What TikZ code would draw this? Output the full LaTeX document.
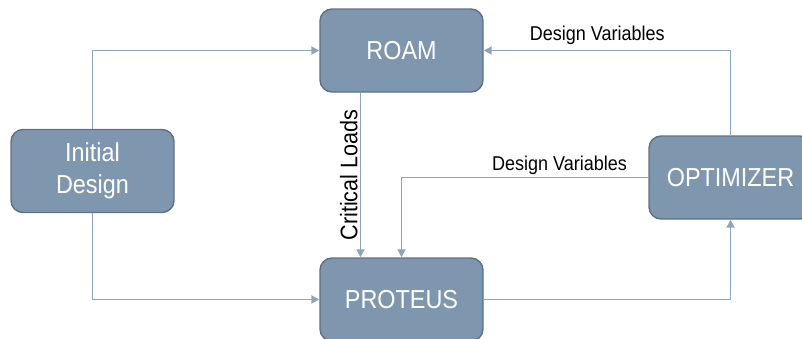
\documentclass[tikz,border=0pt]{standalone}
\usepackage{fontspec}
\setmainfont[FakeStretch=0.9]{Liberation Sans}
\usepackage{xcolor}
\usepackage{tikz}
\usetikzlibrary{arrows.meta}

\definecolor{boxfill}{HTML}{7F97AE}
\definecolor{boxline}{HTML}{5C7189}
\definecolor{flowline}{HTML}{8DA4BA}

\begin{document}
\begin{tikzpicture}[x=1pt, y=-1pt,
  blok/.style={draw=boxline, line width=1.4pt, fill=boxfill, rounded corners=12pt,
    minimum width=163pt, minimum height=83pt, inner sep=0pt, text=white,
    align=center, font=\fontsize{26}{32}\selectfont},
  flow/.style={draw=flowline, line width=1.8pt, -{Triangle[length=8pt, width=8pt]}},
  lbl/.style={font=\fontsize{20}{24}\selectfont}]
  \useasboundingbox (0,0) rectangle (802,338);
  \clip (0,0) rectangle (802,338);

  \node[blok] (init) at (92.5,171) {Initial\\Design};
  \node[blok] (roam) at (401.5,50.5) {ROAM};
  \node[blok] (prot) at (401.5,299.5) {PROTEUS};
  \node[blok] (opt) at (730.5,177.5) {OPTIMIZER};

  \draw[flow] (init.north) |- (roam.west);
  \draw[flow] (init.south) |- (prot.west);

  \draw[flow] ([xshift=-41pt]roam.south) -- node[lbl, font=\fontsize{24}{28}\selectfont,
    rotate=90, anchor=south, inner sep=2pt] {Critical Loads} ([xshift=-41pt]prot.north);

  \draw[flow] (opt.west) -| node[lbl, pos=0.18, above, inner sep=1.5pt] {Design Variables} (prot.north);
  \draw[flow] (prot.east) -| (opt.south);
  \draw[flow] (opt.north) |- node[lbl, pos=0.77, above, inner sep=5pt] {Design Variables} (roam.east);

\end{tikzpicture}
\end{document}
